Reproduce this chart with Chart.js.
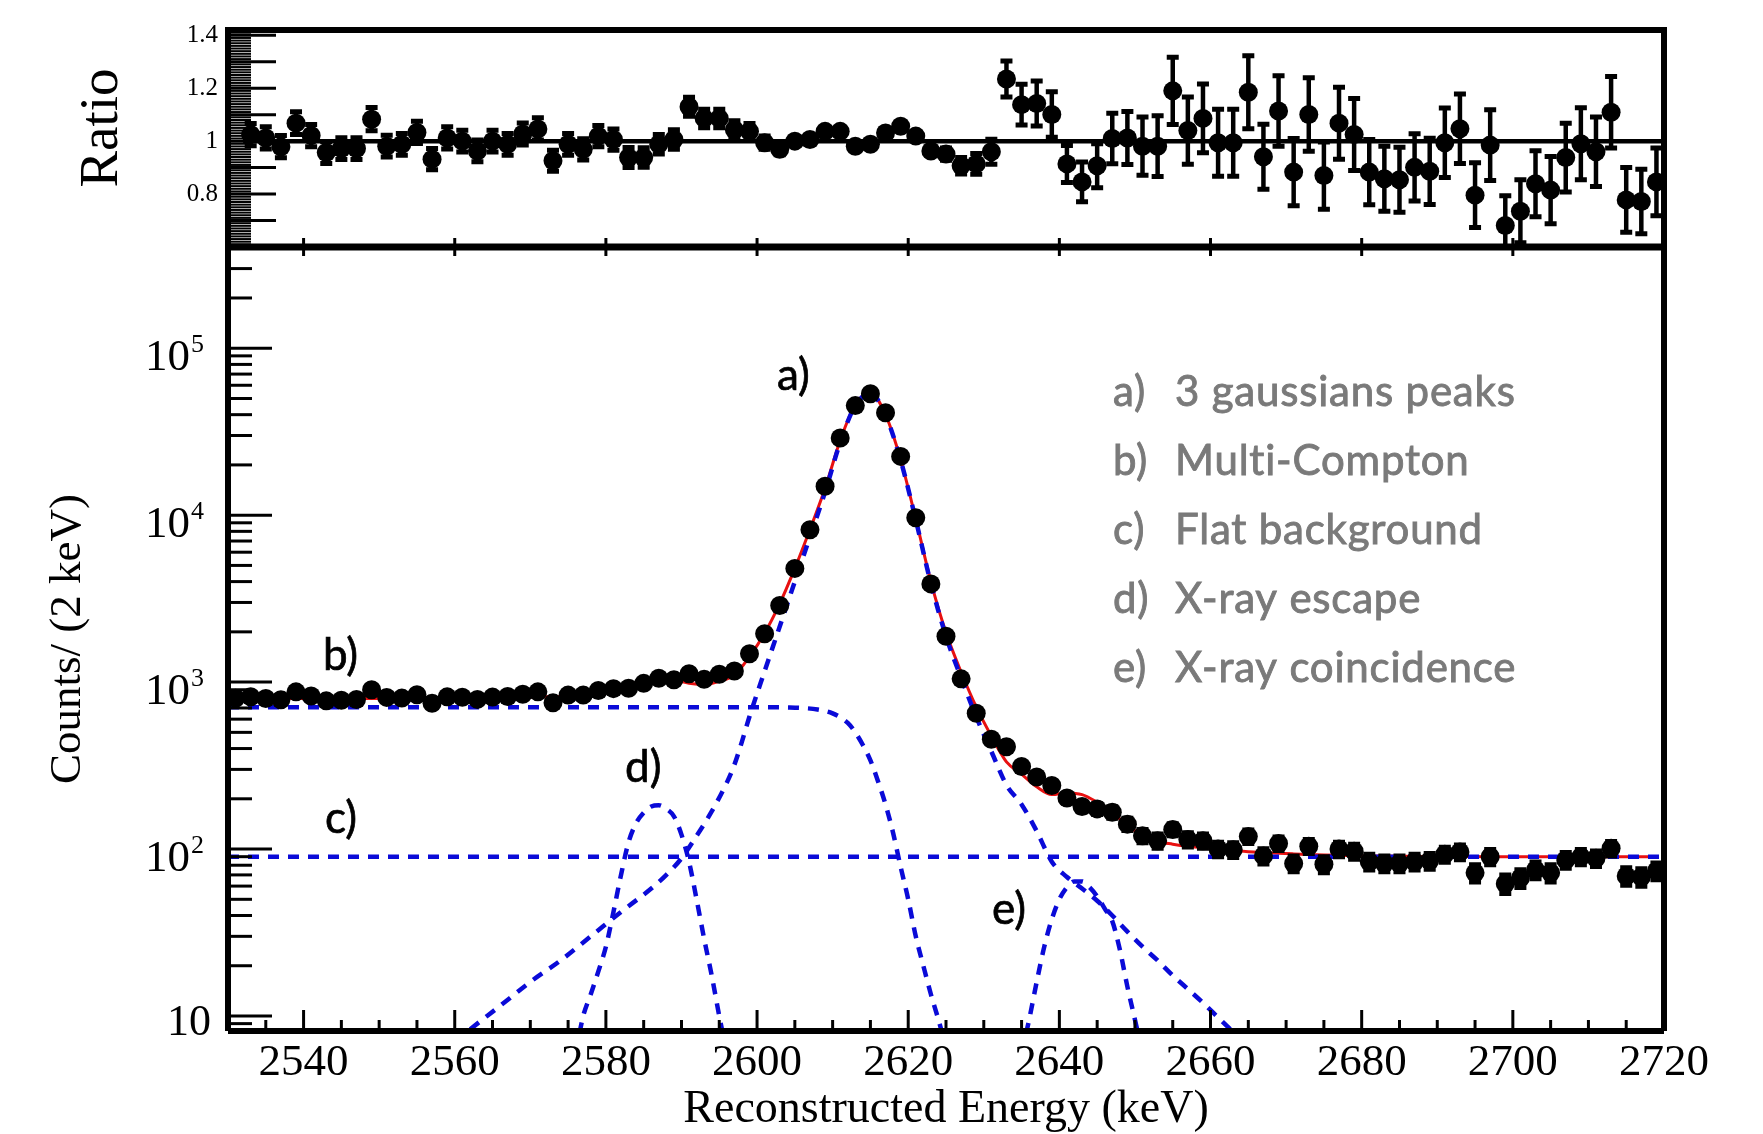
<!DOCTYPE html>
<html>
<head>
<meta charset="utf-8">
<title>Reconstructed Energy fit</title>
<script src="https://cdn.jsdelivr.net/npm/chart.js@4.4.0/dist/chart.umd.min.js"></script>
<style>
  html, body { margin: 0; padding: 0; background: #fff; }
  #wrap { position: relative; width: 1763px; height: 1134px; }
  #wrap canvas { position: absolute; left: 0; top: 0; width: 1763px; height: 1134px; }
</style>
</head>
<body>
<div id="wrap">
  <canvas id="spectrum" width="1763" height="1134"></canvas>
  <canvas id="ratio" width="1763" height="1134"></canvas>
</div>
<script>
// ---- bin centres (2 keV bins) ----
const energy = [
  2531, 2533, 2535, 2537, 2539, 2541, 2543, 2545, 2547, 2549,
  2551, 2553, 2555, 2557, 2559, 2561, 2563, 2565, 2567, 2569,
  2571, 2573, 2575, 2577, 2579, 2581, 2583, 2585, 2587, 2589,
  2591, 2593, 2595, 2597, 2599, 2601, 2603, 2605, 2607, 2609,
  2611, 2613, 2615, 2617, 2619, 2621, 2623, 2625, 2627, 2629,
  2631, 2633, 2635, 2637, 2639, 2641, 2643, 2645, 2647, 2649,
  2651, 2653, 2655, 2657, 2659, 2661, 2663, 2665, 2667, 2669,
  2671, 2673, 2675, 2677, 2679, 2681, 2683, 2685, 2687, 2689,
  2691, 2693, 2695, 2697, 2699, 2701, 2703, 2705, 2707, 2709,
  2711, 2713, 2715, 2717, 2719
];

// counts per bin
const counts = [
  800, 818, 798, 785, 874, 826, 772, 778, 787, 900,
  810, 802, 840, 747, 816, 812, 788, 813, 819, 845,
  874, 751, 836, 836, 891, 914, 919, 983, 1054, 1033,
  1121, 1039, 1114, 1165, 1480, 1949, 2880, 4800, 8175, 14920,
  29020, 45310, 53430, 41120, 22500, 9640, 3876, 1882, 1046, 650,
  455, 410, 312, 270, 240, 202, 180, 174, 166, 141,
  120, 112, 131, 114, 112, 100, 99, 119, 91, 108,
  82, 104, 81, 100, 97, 84, 82, 82, 84, 85,
  93, 96, 72, 90, 62, 67, 75, 72, 86, 90,
  88, 101, 69, 68, 74
];
const countErr = [
  28, 29, 28, 28, 30, 29, 28, 28, 28, 30,
  28, 28, 29, 27, 29, 28, 28, 29, 29, 29,
  30, 27, 29, 29, 30, 30, 30, 31, 32, 32,
  33, 32, 33, 34, 38, 44, 54, 69, 90, 122,
  170, 213, 231, 203, 150, 98, 62, 43, 32, 25,
  21, 20, 18, 16, 15, 14, 13, 13, 13, 12,
  11, 11, 11, 11, 11, 10, 10, 11, 9.5, 10,
  9, 10, 9, 10, 10, 9.2, 9, 9, 9.2, 9.2,
  9.6, 9.8, 8.5, 9.5, 7.9, 8.2, 8.7, 8.5, 9.3, 9.5,
  9.4, 10, 8.3, 8.2, 8.6
];

// total fit (red)
const fitTotal = [
  798, 798, 798, 798, 798, 798, 798, 798, 798, 798,
  798, 798, 798, 803, 805, 806, 807, 808, 810, 812,
  815, 818, 826, 835, 850, 877, 959, 1024, 1044, 1031,
  985, 966, 1013, 1102, 1420, 1960, 2950, 4800, 8200, 14500,
  28000, 46000, 54000, 40000, 21500, 9500, 4000, 1980, 1150, 710,
  475, 333, 281, 236, 212, 217, 212, 191, 167, 137,
  122, 111, 107, 104, 102, 100, 98, 96.5, 95.3, 94.3,
  93.5, 92.8, 92.2, 91.7, 91.3, 91, 90.8, 90.6, 90.4, 90.3,
  90.2, 90.1, 90.1, 90, 90, 90, 90, 90, 90, 90,
  90, 90, 90, 90, 90
];

// data / fit
const ratio = [
  null, 1.025, 1.012, 0.979, 1.068, 1.021, 0.957, 0.972, 0.972, 1.083,
  0.981, 0.988, 1.033, 0.932, 1.012, 1.000, 0.963, 1.000, 0.988, 1.027,
  1.046, 0.926, 0.988, 0.969, 1.019, 1.006, 0.938, 0.938, 0.988, 1.006,
  1.130, 1.086, 1.086, 1.043, 1.037, 0.994, 0.969, 1.000, 1.006, 1.037,
  1.037, 0.981, 0.988, 1.031, 1.056, 1.019, 0.963, 0.951, 0.907, 0.914,
  0.960, 1.235, 1.138, 1.142, 1.101, 0.914, 0.846, 0.907, 1.010, 1.012,
  0.981, 0.981, 1.190, 1.040, 1.086, 0.994, 0.994, 1.185, 0.941, 1.114,
  0.883, 1.101, 0.870, 1.068, 1.025, 0.883, 0.858, 0.854, 0.901, 0.886,
  0.994, 1.047, 0.796, 0.985, 0.681, 0.735, 0.839, 0.815, 0.938, 0.990,
  0.960, 1.109, 0.778, 0.772, 0.846
];
const ratioErr = [
  null, 0.042, 0.042, 0.042, 0.043, 0.042, 0.041, 0.041, 0.041, 0.044,
  0.041, 0.041, 0.042, 0.040, 0.042, 0.041, 0.041, 0.041, 0.041, 0.042,
  0.042, 0.040, 0.041, 0.040, 0.040, 0.040, 0.038, 0.037, 0.037, 0.037,
  0.036, 0.035, 0.035, 0.034, 0.030, 0.025, 0.020, 0.015, 0.012, 0.009,
  0.006, 0.005, 0.005, 0.005, 0.007, 0.010, 0.016, 0.023, 0.031, 0.039,
  0.047, 0.068, 0.077, 0.085, 0.086, 0.070, 0.075, 0.083, 0.095, 0.100,
  0.110, 0.115, 0.127, 0.127, 0.130, 0.127, 0.127, 0.138, 0.123, 0.133,
  0.127, 0.139, 0.127, 0.136, 0.136, 0.123, 0.123, 0.123, 0.127, 0.125,
  0.131, 0.131, 0.122, 0.134, 0.113, 0.119, 0.125, 0.127, 0.130, 0.136,
  0.131, 0.135, 0.122, 0.122, 0.128
];

// ---- fit components (blue dashed) ----
const peaksE = [2560, 2562, 2566, 2570, 2574, 2578, 2582, 2586, 2588, 2590,
  2592, 2594, 2596, 2597, 2598, 2599, 2601, 2603, 2605, 2607,
  2609, 2611, 2613, 2615, 2617, 2619, 2621, 2623, 2625, 2627,
  2629, 2631, 2633, 2635, 2637, 2639, 2641, 2643, 2645, 2647,
  2649, 2651, 2653, 2655, 2657, 2659, 2661, 2663, 2665];
const peaksV = [7, 8.3, 11.5, 16, 21.5, 30, 42, 58, 70, 88,
  120, 168, 250, 320, 440, 622, 1162, 2153, 4007, 7417,
  13742, 27300, 45410, 53570, 39725, 21340, 9380, 3896, 1883, 1060,
  620, 385, 242, 185, 128, 84, 68, 58, 49, 40,
  32, 26, 21.5, 17.5, 14.5, 12, 9.8, 8, 6.5];

const comptonE = [2530, 2600, 2604, 2606, 2608, 2610, 2612, 2613, 2614, 2615,
  2616, 2617, 2618, 2619, 2620, 2621, 2622, 2623, 2624, 2625];
const comptonV = [708, 708, 705, 700, 685, 650, 570, 500, 420, 340,
  255, 185, 125, 78, 50, 30, 20, 13.5, 9.5, 6.5];

const flatE = [2530, 2720];
const flatV = [90, 90];

const escapeE = [2576, 2577, 2578, 2579, 2580, 2581, 2582, 2583, 2584, 2585,
  2586, 2587, 2588, 2589, 2590, 2591, 2592, 2593, 2594, 2595, 2596];
const escapeV = [6, 10, 13.5, 18.5, 26, 42, 70, 110, 143, 165,
  180, 183, 174, 157, 122, 84, 50, 29, 17.5, 10, 6];

const coincE = [2635, 2636, 2637, 2638, 2639, 2640, 2641, 2642, 2643, 2644,
  2645, 2646, 2647, 2648, 2649, 2650, 2651];
const coincV = [6, 9.5, 16, 26, 38, 50, 59, 64, 64, 59, 52, 44, 37, 25, 15, 9.5, 6];

const ratioLineE = [2532, 2720];
const ratioLineV = [1, 1];

// ---- axes ----
const xTicks = [2540, 2560, 2580, 2600, 2620, 2640, 2660, 2680, 2700, 2720];
const ratioTickValues = [0.8, 1, 1.2, 1.4];
const ratioTickText = ['0.8', '1', '1.2', '1.4'];
const decadeValues = [10, 100, 1000, 10000, 100000];
const decadeExp = ['', '2', '3', '4', '5'];

const legendKeys = ['a)', 'b)', 'c)', 'd)', 'e)'];
const legendTexts = ['3 gaussians peaks', 'Multi-Compton', 'Flat background', 'X-ray escape', 'X-ray coincidence'];

Chart.defaults.font.family = "'Liberation Serif', 'Times New Roman', serif";
Chart.defaults.color = '#000';

const pairs = (xs, ys) => xs.map((x, i) => ({ x: x, y: ys[i] })).filter(p => p.y !== null);

const BLUE = '#0a0ad8';
const RED = '#e81010';
const MARKER = 9.5;

// vertical error bars with end caps, drawn just under the markers
const errorBarPlugin = {
  id: 'errorBars',
  beforeDatasetDraw(chart, args) {
    const ds = chart.data.datasets[args.index];
    if (!ds.errors) return;
    const { ctx, chartArea: a, scales: { y } } = chart;
    ctx.save();
    ctx.beginPath();
    ctx.rect(a.left, a.top, a.right - a.left, a.bottom - a.top);
    ctx.clip();
    ctx.strokeStyle = '#000';
    args.meta.data.forEach((pt, i) => {
      const e = ds.errors[i];
      const v = ds.data[i].y;
      const yTop = y.getPixelForValue(v + e);
      const yBot = y.getPixelForValue(Math.max(v - e, 1e-6));
      ctx.lineWidth = 4.5;
      ctx.beginPath();
      ctx.moveTo(pt.x, yTop);
      ctx.lineTo(pt.x, yBot);
      ctx.stroke();
      ctx.lineWidth = 5;
      ctx.beginPath();
      ctx.moveTo(pt.x - 6, yTop); ctx.lineTo(pt.x + 6, yTop);
      ctx.moveTo(pt.x - 6, yBot); ctx.lineTo(pt.x + 6, yBot);
      ctx.stroke();
    });
    ctx.restore();
  }
};

function line(ctx, x1, y1, x2, y2) {
  ctx.beginPath(); ctx.moveTo(x1, y1); ctx.lineTo(x2, y2); ctx.stroke();
}

// text with a hairline outline so the sans labels read a little heavier
function heavyText(ctx, text, x, y) {
  ctx.fillText(text, x, y);
  ctx.strokeText(text, x, y);
}

// ROOT style frame with inward ticks for the ratio pad
const ratioFramePlugin = {
  id: 'ratioFrame',
  afterDraw(chart) {
    const { ctx, chartArea: a, scales: { x, y } } = chart;
    ctx.save();
    ctx.strokeStyle = '#000';
    for (let i = 60; i <= 142; i++) {
      const py = y.getPixelForValue(i / 100);
      const major = i % 10 === 0;
      ctx.lineWidth = major ? 3 : 2;
      line(ctx, a.left, py, a.left + (major ? 48 : 23), py);
    }
    ctx.lineWidth = 3;
    xTicks.forEach(t => {
      const px = x.getPixelForValue(t);
      line(ctx, px, a.bottom, px, a.bottom - 9);
    });
    ctx.lineWidth = 6;
    ctx.strokeRect(a.left, a.top, a.right - a.left, a.bottom - a.top);

    ctx.fillStyle = '#000';
    ctx.font = "55px 'Liberation Serif'";
    ctx.textAlign = 'center';
    ctx.textBaseline = 'middle';
    ctx.translate(103, 128);
    ctx.rotate(-Math.PI / 2);
    ctx.fillText('Ratio', 0, 0);
    ctx.restore();
  }
};

const spectrumFramePlugin = {
  id: 'spectrumFrame',
  afterDraw(chart) {
    const { ctx, chartArea: a, scales: { x, y } } = chart;
    ctx.save();
    ctx.strokeStyle = '#000';
    // log y ticks
    ctx.lineWidth = 3;
    for (let e = 0; e <= 5; e++) {
      for (let m = 1; m <= 9; m++) {
        const v = m * Math.pow(10, e);
        if (v < y.min || v > y.max) continue;
        const py = y.getPixelForValue(v);
        line(ctx, a.left, py, a.left + (m === 1 ? 44 : 24), py);
      }
    }
    // x ticks every 5 keV, long every 20
    for (let t = 2530; t <= 2720; t += 5) {
      const px = x.getPixelForValue(t);
      const major = t % 20 === 0;
      line(ctx, px, a.bottom, px, a.bottom - (major ? 21 : 11));
      if (major) line(ctx, px, a.top, px, a.top + 9);
    }
    // frame
    ctx.lineWidth = 6;
    line(ctx, a.left, a.top, a.left, a.bottom);
    line(ctx, a.left, a.bottom, a.right, a.bottom);
    line(ctx, a.right, a.top, a.right, a.bottom);
    ctx.lineWidth = 7;
    line(ctx, a.left - 3, a.top, a.right + 3, a.top);

    // decade labels with superscripts
    ctx.fillStyle = '#000';
    ctx.textBaseline = 'alphabetic';
    decadeValues.forEach((v, i) => {
      const py = y.getPixelForValue(v);
      if (decadeExp[i] === '') {
        ctx.font = "44px 'Liberation Serif'";
        ctx.textAlign = 'right';
        ctx.fillText('10', 211, py + 19);
      } else {
        ctx.font = "45px 'Liberation Serif'";
        ctx.textAlign = 'right';
        ctx.fillText('10', 190, py + 22);
        ctx.font = "26px 'Liberation Serif'";
        ctx.textAlign = 'left';
        ctx.fillText(decadeExp[i], 191, py + 4);
      }
    });

    // component labels
    ctx.font = "44px Lato";
    ctx.textAlign = 'left';
    ctx.fillStyle = '#000';
    ctx.strokeStyle = '#000';
    ctx.lineWidth = 0.7;
    heavyText(ctx, 'a)', 777, 390);
    heavyText(ctx, 'b)', 323, 670);
    heavyText(ctx, 'c)', 325, 833);
    heavyText(ctx, 'd)', 625, 782);
    heavyText(ctx, 'e)', 992, 924);

    // grey key
    ctx.font = "42px Lato";
    ctx.fillStyle = '#7a7a7a';
    ctx.strokeStyle = '#7a7a7a';
    ctx.lineWidth = 0.9;
    ctx.letterSpacing = '0.8px';
    legendKeys.forEach((k, i) => {
      const by = 406 + i * 69;
      heavyText(ctx, k, 1113, by);
      heavyText(ctx, legendTexts[i], 1175, by);
    });
    ctx.restore();
  }
};

const dashed = (label, xs, ys) => ({
  type: 'line', label: label, data: pairs(xs, ys),
  borderColor: BLUE, borderWidth: 4.5, borderDash: [11, 9],
  pointRadius: 0, fill: false, cubicInterpolationMode: 'monotone', order: 1
});

new Chart(document.getElementById('spectrum'), {
  type: 'scatter',
  data: {
    datasets: [
      {
        label: 'Data', data: pairs(energy, counts), errors: countErr,
        pointRadius: MARKER, pointBackgroundColor: '#000', pointBorderWidth: 0,
        clip: 12, order: 0
      },
      dashed('3 gaussians peaks', peaksE, peaksV),
      dashed('Multi-Compton', comptonE, comptonV),
      dashed('Flat background', flatE, flatV),
      dashed('X-ray escape', escapeE, escapeV),
      dashed('X-ray coincidence', coincE, coincV),
      {
        type: 'line', label: 'Total fit', data: pairs(energy, fitTotal),
        borderColor: RED, borderWidth: 3, pointRadius: 0, fill: false,
        cubicInterpolationMode: 'monotone', order: 2
      }
    ]
  },
  options: {
    responsive: false,
    devicePixelRatio: 1,
    animation: false,
    events: [],
    layout: { padding: { top: 247, right: 99, bottom: 0, left: 0 } },
    plugins: { legend: { display: false }, tooltip: { enabled: false } },
    scales: {
      x: {
        type: 'linear', min: 2530, max: 2720,
        afterBuildTicks: s => { s.ticks = xTicks.map(v => ({ value: v })); },
        afterFit: s => { s.height = 103; },
        grid: { display: false, drawTicks: false },
        border: { display: false },
        ticks: { padding: 5, maxRotation: 0, font: { size: 45 }, callback: v => String(v) },
        title: {
          display: true, text: 'Reconstructed Energy (keV)',
          font: { size: 46 }, padding: { top: 0, bottom: -4 }
        }
      },
      y: {
        type: 'logarithmic', min: 8.13, max: 404000,
        afterBuildTicks: s => { s.ticks = decadeValues.map(v => ({ value: v })); },
        afterFit: s => { s.width = 228; },
        grid: { display: false, drawTicks: false },
        border: { display: false },
        ticks: { display: false },
        title: {
          display: true, text: 'Counts/ (2 keV)',
          font: { size: 45 }, padding: { top: 41, bottom: 0 }
        }
      }
    }
  },
  plugins: [errorBarPlugin, spectrumFramePlugin]
});

new Chart(document.getElementById('ratio'), {
  type: 'scatter',
  data: {
    datasets: [
      {
        label: 'Ratio', data: pairs(energy, ratio), errors: ratioErr.filter(e => e !== null),
        pointRadius: MARKER, pointBackgroundColor: '#000', pointBorderWidth: 0,
        clip: 12, order: 0
      },
      {
        type: 'line', label: 'Unity', data: pairs(ratioLineE, ratioLineV),
        borderColor: '#000', borderWidth: 4.5, pointRadius: 0, fill: false, order: 1
      }
    ]
  },
  options: {
    responsive: false,
    devicePixelRatio: 1,
    animation: false,
    events: [],
    layout: { padding: { top: 30, right: 99, bottom: 887, left: 0 } },
    plugins: { legend: { display: false }, tooltip: { enabled: false } },
    scales: {
      x: { type: 'linear', min: 2530, max: 2720, display: false },
      y: {
        min: 0.6, max: 1.42,
        afterBuildTicks: s => { s.ticks = ratioTickValues.map(v => ({ value: v })); },
        afterFit: s => { s.width = 228; },
        grid: { display: false, drawTicks: false },
        border: { display: false },
        ticks: {
          padding: 10, font: { size: 25 },
          callback: v => ratioTickText[ratioTickValues.indexOf(v)]
        }
      }
    }
  },
  plugins: [errorBarPlugin, ratioFramePlugin]
});
</script>
</body>
</html>
